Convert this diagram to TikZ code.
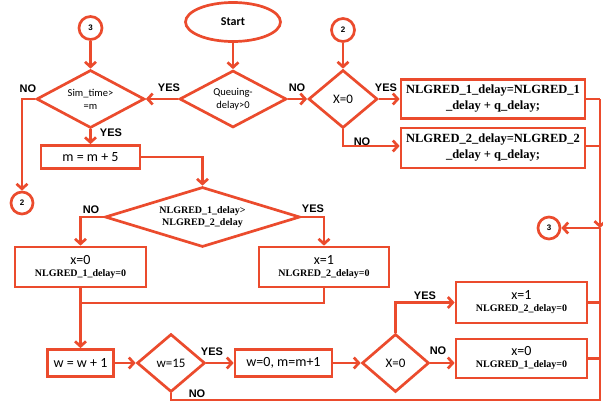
\documentclass[tikz,border=0pt]{standalone}
\usepackage{fontspec}
\setmainfont{Liberation Serif}
\newfontfamily\calfont{Carlito}
\newfontfamily\arialfont{Liberation Sans}
\usetikzlibrary{
    arrows.meta,
    positioning,
    shapes.geometric
}
\definecolor{fcRed}{HTML}{EB4B2D}
\tikzset{
    base/.style={draw=fcRed,line width=2.7pt,fill=white,inner sep=0pt,align=center},
    procbox/.style={base,rectangle},
    decide/.style={base,diamond},
    terminal/.style={base,ellipse},
    conn/.style={base,circle,font=\arialfont\bfseries\fontsize{8}{9}\selectfont},
    flow/.style={draw=fcRed,line width=2.7pt,-{Straight Barb[length=5pt,width=11pt]}},
    plain/.style={draw=fcRed,line width=2.7pt},
    lab/.style={font=\arialfont\bfseries\fontsize{11}{12}\selectfont,inner sep=0pt},
    sansbig/.style={font=\calfont\fontsize{14}{16}\selectfont},
    sanssmall/.style={font=\calfont\fontsize{10.5}{13}\selectfont},
    serifbig/.style={font=\bfseries\fontsize{12.5}{16}\selectfont}
}
\newcommand{\smallser}[1]{{\bfseries\fontsize{10}{11}\selectfont #1}}
\newcommand{\bigsans}[1]{{\calfont\fontsize{14}{17}\selectfont #1}}

\begin{document}
\begin{tikzpicture}[x=1pt,y=-1pt]
    \useasboundingbox (0,0) rectangle (603,405);

    % Top row
    \node[terminal,minimum width=95,minimum height=39,font=\calfont\bfseries\fontsize{12}{14}\selectfont] (start) at (233,22) {Start};
    \node[decide,minimum width=107,minimum height=57,shape aspect=1.9,sanssmall] (qdelay) at (233,99) {Queuing-\\delay>0};
    \node[decide,minimum width=108,minimum height=58,shape aspect=1.9,sanssmall] (simtime) at (90.5,99) {Sim\_time>\\=m};
    \node[decide,minimum width=69,minimum height=58,shape aspect=1.2,font=\calfont\fontsize{13}{15}\selectfont] (xtop) at (343,99) {X=0};
    \node[conn,minimum size=23] (cthree) at (90.5,28) {3};
    \node[conn,minimum size=23] (ctwo) at (343,30) {2};
    \node[procbox,minimum width=184,minimum height=39,serifbig] (sumone) at (493,99) {NLGRED\_1\_delay=NLGRED\_1\\\_delay + q\_delay;};
    \node[procbox,minimum width=184,minimum height=40,serifbig] (sumtwo) at (493,148) {NLGRED\_2\_delay=NLGRED\_2\\\_delay + q\_delay;};

    % Connectors
    \node[conn,minimum size=22] (ctwoL) at (22,203) {2};
    \node[conn,minimum size=22] (cthreeR) at (549,228) {3};

    % Middle part
    \node[procbox,minimum width=99,minimum height=23,sansbig] (mplus) at (90.5,157) {m = m + 5};
    \node[decide,minimum width=195,minimum height=60,shape aspect=3.25,font=\bfseries\fontsize{10}{12}\selectfont] (cmp) at (202.5,217) {NLGRED\_1\_delay>\\NLGRED\_2\_delay};
    \node[procbox,minimum width=131,minimum height=40] (xzero) at (80.5,267) {\bigsans{x=0}\\\smallser{NLGRED\_1\_delay=0}};
    \node[procbox,minimum width=130,minimum height=40] (xone) at (324,267) {\bigsans{x=1}\\\smallser{NLGRED\_2\_delay=0}};
    \coordinate (merge) at (80.5,303);

    % Bottom row
    \node[procbox,minimum width=66,minimum height=27,sansbig] (wplus) at (80.5,363) {w = w + 1};
    \node[decide,minimum width=68,minimum height=58,shape aspect=1.2,font=\calfont\fontsize{13}{15}\selectfont] (wfift) at (171,363) {w=15};
    \node[procbox,minimum width=97,minimum height=27,sansbig] (wreset) at (283.5,363) {w=0, m=m+1};
    \node[decide,minimum width=67,minimum height=58,shape aspect=1.2,font=\calfont\fontsize{13}{15}\selectfont] (xbot) at (395.5,363) {X=0};
    \node[procbox,minimum width=131,minimum height=41] (xoneB) at (521.5,302.5) {\bigsans{x=1}\\\smallser{NLGRED\_2\_delay=0}};
    \node[procbox,minimum width=131,minimum height=39] (xzeroB) at (521.5,358.5) {\bigsans{x=0}\\\smallser{NLGRED\_1\_delay=0}};

    % Rail on the right
    \coordinate (railA) at (600,99);
    \coordinate (rail) at (600,228);
    \coordinate (railB) at (600,400);

    % Flow lines
    \draw[flow] (start) -- (qdelay);
    \draw[flow] (cthree) -- (simtime);
    \draw[flow] (ctwo) -- (xtop);
    \draw[flow] (qdelay.west) -- (simtime.east);
    \draw[flow] (qdelay.east) -- (xtop.west);
    \draw[flow] (xtop.east) -- (sumone.west);
    \draw[flow] (xtop.south) |- ([yshift=2pt]sumtwo.west);
    \draw[flow] (simtime.west) -| (ctwoL.north);
    \draw[flow] (simtime.south) -- (mplus.north);
    \draw[flow] (mplus.east) -| (cmp.north);
    \draw[flow] (cmp.west) -| (xzero.north);
    \draw[flow] (cmp.east) -| (xone.north);
    \draw[plain] (xzero.south) -- (merge);
    \draw[plain] (xone.south) |- (merge);
    \draw[flow] (merge) -- (wplus.north);
    \draw[flow] (wplus) -- (wfift);
    \draw[flow] (wfift) -- (wreset);
    \draw[flow] (wreset) -- (xbot);
    \draw[flow] (xbot.north) |- (xoneB.west);
    \draw[flow] (xbot.east) -- (xbot.east -| xzeroB.west);

    \draw[plain] (sumone.east) -- (railA);
    \draw[plain] ([yshift=2pt]sumtwo.east) -- ([yshift=2pt]sumtwo.east -| railA);
    \draw[flow] (railA) -- (rail);
    \draw[flow] (rail) -- (cthreeR);
    \draw[plain] (wfift.south) |- (railB) -- (rail);
    \draw[plain] (xoneB.east) -- (xoneB.east -| railB);
    \draw[plain] (xzeroB.east) -- (xzeroB.east -| railB);

    % YES / NO labels
    \node[lab] (l1) at (169,88) {YES};
    \node[lab] (l2) at (297,88) {NO};
    \node[lab] (l3) at (386,88) {YES};
    \node[lab] (l4) at (362,142) {NO};
    \node[lab] (l5) at (28,89) {NO};
    \node[lab] (l6) at (111,133) {YES};
    \node[lab] (l7) at (91,210) {NO};
    \node[lab] (l8) at (313,209) {YES};
    \node[lab] (l9) at (212,352) {YES};
    \node[lab] (l10) at (197,394) {NO};
    \node[lab] (l11) at (425,296) {YES};
    \node[lab] (l12) at (438,351) {NO};
\end{tikzpicture}
\end{document}
